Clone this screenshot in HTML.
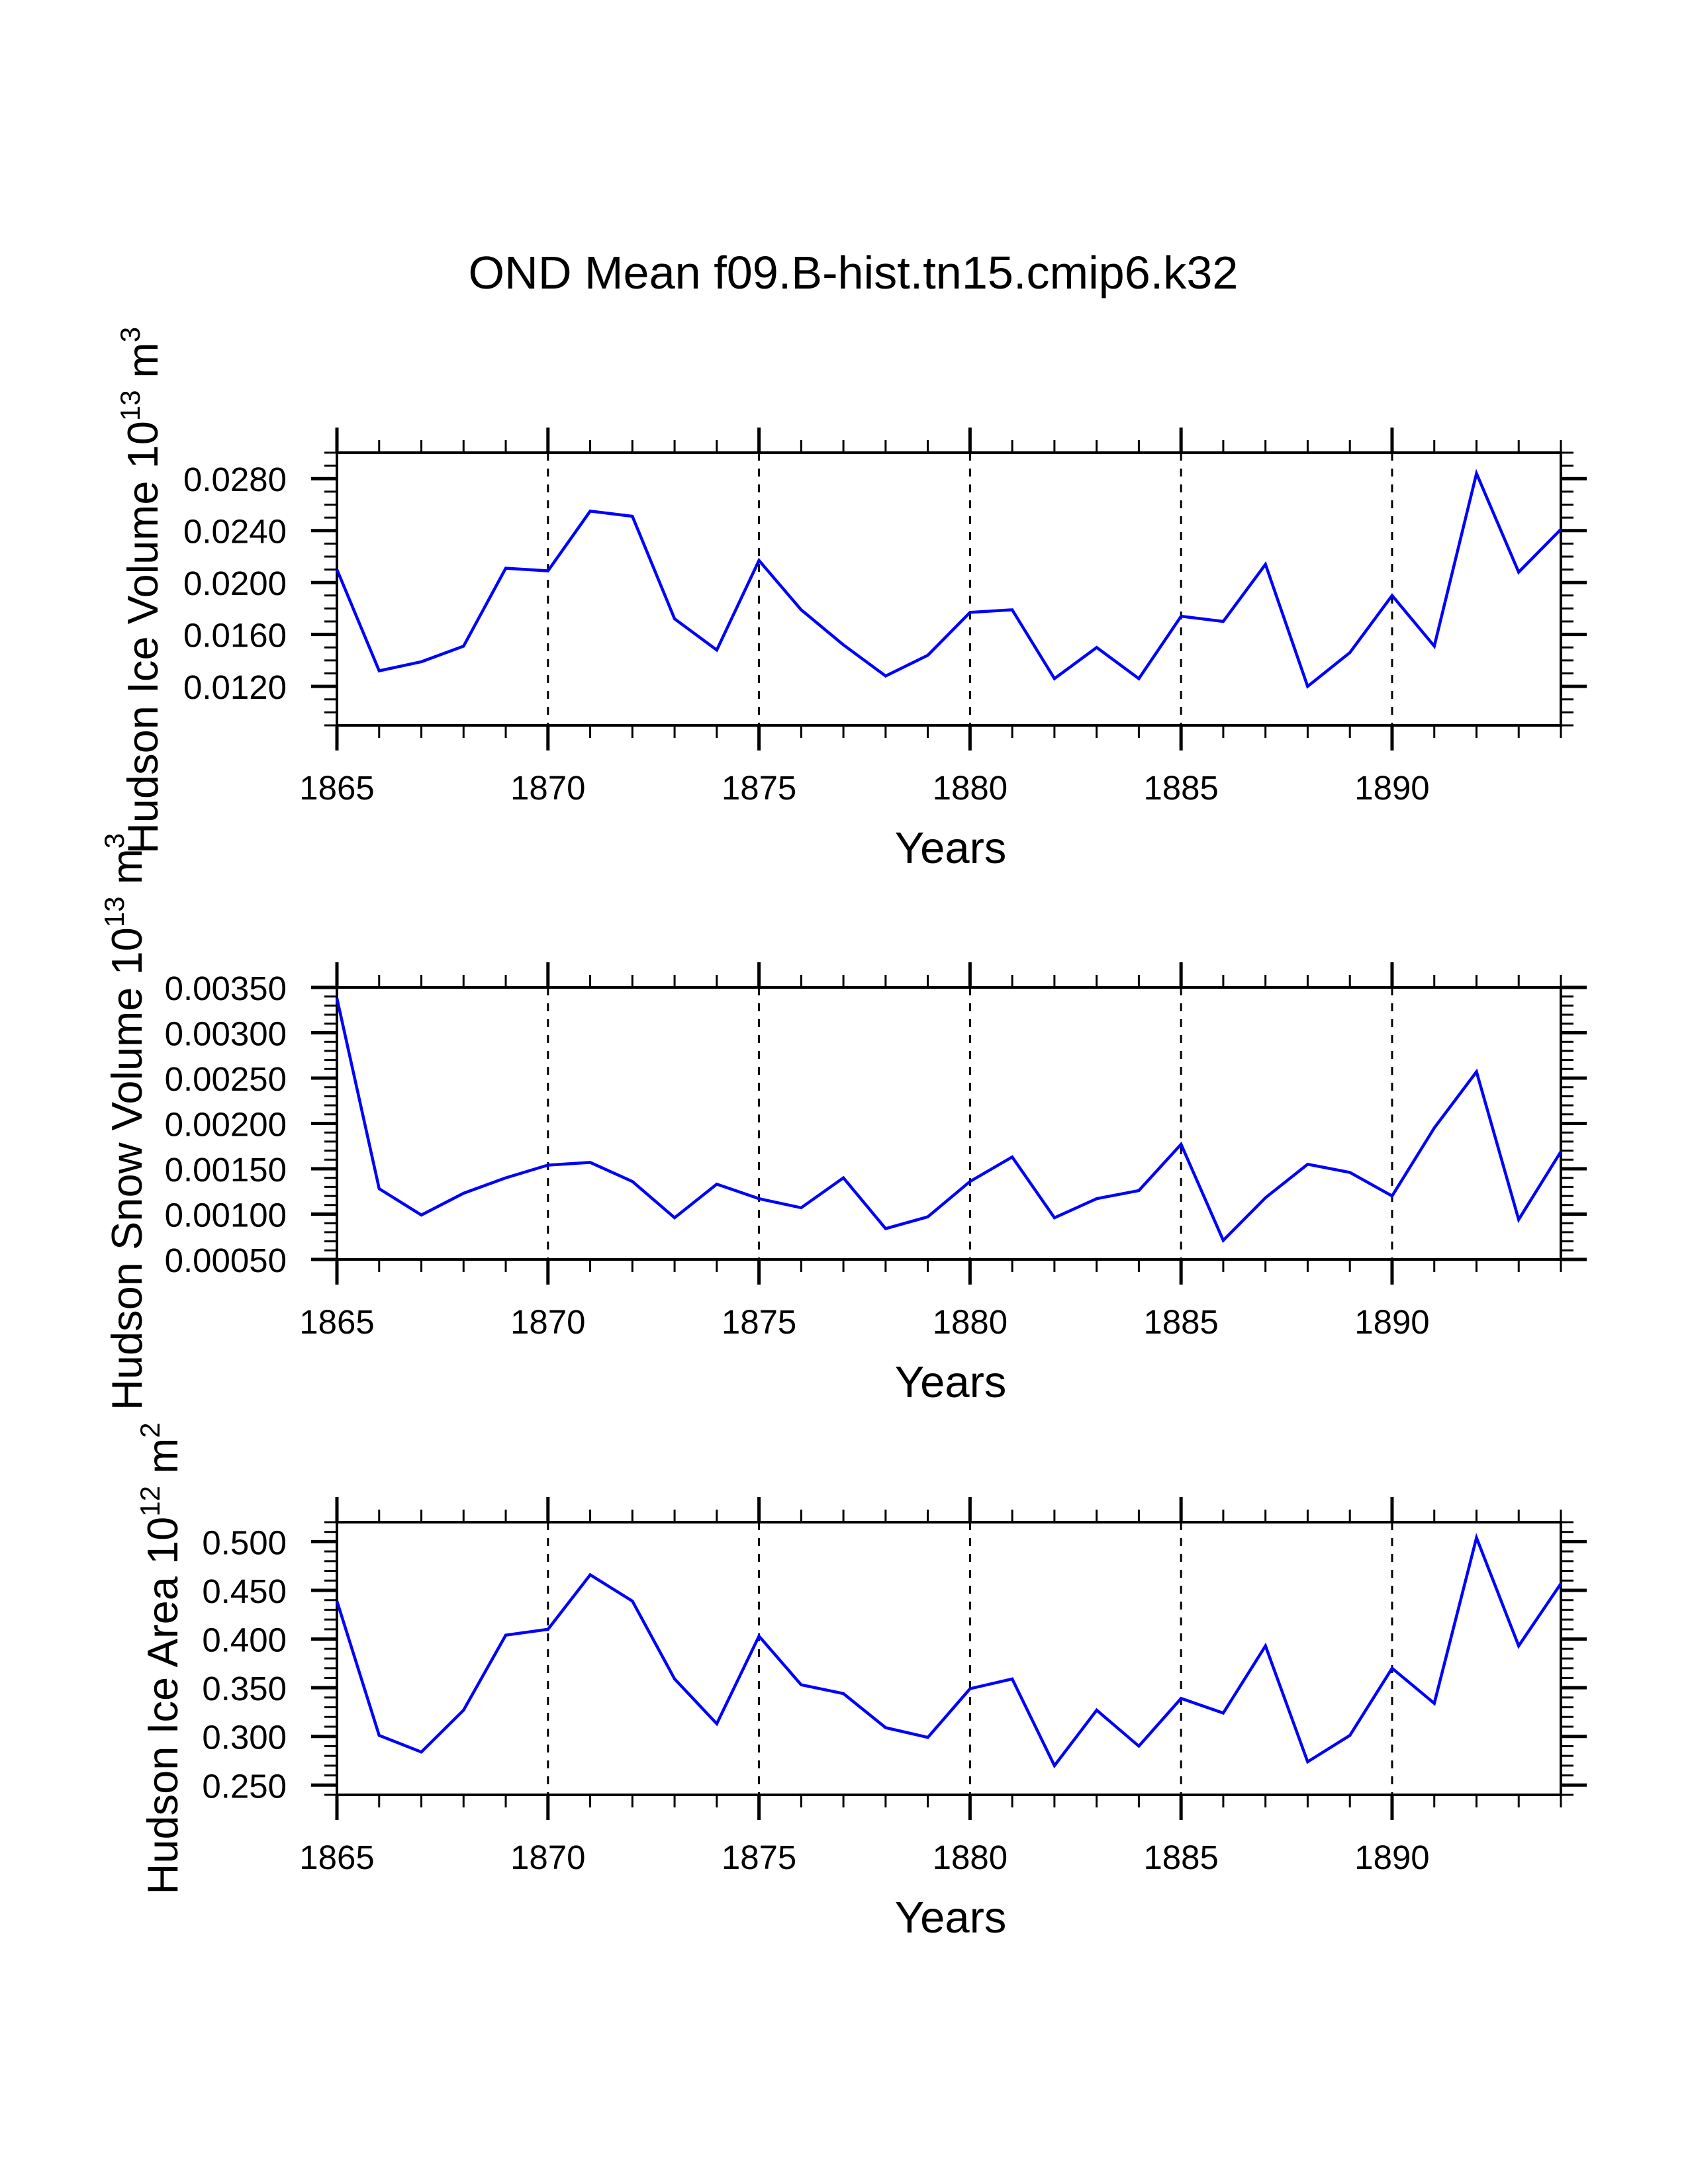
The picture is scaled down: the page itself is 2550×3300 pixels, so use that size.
<!DOCTYPE html>
<html>
<head>
<meta charset="utf-8">
<style>
html,body{margin:0;padding:0;background:#fff;}
svg{display:block;}
text{font-family:"Liberation Sans",Arial,sans-serif;fill:#000;}
</style>
</head>
<body>
<svg id="chart" xmlns="http://www.w3.org/2000/svg" width="2550" height="3300" viewBox="0 0 2550 3300">
<rect x="0" y="0" width="2550" height="3300" fill="#fff"/>
<text x="1289" y="436" font-size="70" text-anchor="middle" textLength="1163" lengthAdjust="spacingAndGlyphs">OND Mean f09.B-hist.tn15.cmip6.k32</text>
<g id="plots"></g>
</svg>
<script>
// ---- data ----
const years = [1865,1866,1867,1868,1869,1870,1871,1872,1873,1874,1875,1876,1877,1878,1879,1880,1881,1882,1883,1884,1885,1886,1887,1888,1889,1890,1891,1892,1893,1894];
const iceVolume = [0.0210,0.0132,0.0139,0.0151,0.0211,0.0209,0.0255,0.0251,0.0172,0.0148,0.0217,0.0179,0.0152,0.0128,0.0144,0.0177,0.0179,0.0126,0.0150,0.0126,0.0174,0.0170,0.0214,0.0120,0.0146,0.0190,0.0151,0.0284,0.0208,0.0241];
const snowVolume = [0.00338,0.00128,0.00099,0.00123,0.00140,0.00154,0.00157,0.00136,0.00096,0.00133,0.00117,0.00107,0.00140,0.00084,0.00097,0.00136,0.00163,0.00096,0.00117,0.00126,0.00177,0.00071,0.00118,0.00155,0.00146,0.00120,0.00195,0.00257,0.00094,0.00169];
const iceArea = [0.439,0.301,0.284,0.327,0.404,0.410,0.466,0.439,0.359,0.313,0.403,0.353,0.344,0.309,0.299,0.349,0.359,0.270,0.327,0.290,0.339,0.324,0.393,0.274,0.301,0.370,0.334,0.504,0.393,0.457];
const xTickLabels = ["1865","1870","1875","1880","1885","1890"];
const iceVolumeTicks = ["0.0120","0.0160","0.0200","0.0240","0.0280"];
const snowVolumeTicks = ["0.00050","0.00100","0.00150","0.00200","0.00250","0.00300","0.00350"];
const iceAreaTicks = ["0.250","0.300","0.350","0.400","0.450","0.500"];

const NS = "http://www.w3.org/2000/svg";
const root = document.getElementById("plots");
const X0 = 509, X1 = 2358, XMIN = 1865, XMAX = 1894;
function xScale(v){ return X0 + (v - XMIN) / (XMAX - XMIN) * (X1 - X0); }

function mk(tag, attrs, parent){
  const e = document.createElementNS(NS, tag);
  for (const k in attrs) e.setAttribute(k, attrs[k]);
  parent.appendChild(e);
  return e;
}

const panels = [
  {name:"ice-volume", top:684, bottom:1096, ymin:0.009, ymax:0.030, minor:0.001, ticks:iceVolumeTicks, data:iceVolume,
   title:["Hudson Ice Volume 10","13"," m","3"], tx:238, tcy:892},
  {name:"snow-volume", top:1492, bottom:1903, ymin:0.0005, ymax:0.0035, minor:0.0001, ticks:snowVolumeTicks, data:snowVolume,
   title:["Hudson Snow Volume 10","13"," m","3"], tx:214, tcy:1695},
  {name:"ice-area", top:2300, bottom:2712, ymin:0.24, ymax:0.52, minor:0.01, ticks:iceAreaTicks, data:iceArea,
   title:["Hudson Ice Area 10","12"," m","2"], tx:268, tcy:2506}
];

panels.forEach(p => {
  const g = mk("g", {}, root);
  
  
  const ys = v => p.bottom - (v - p.ymin) / (p.ymax - p.ymin) * (p.bottom - p.top);

  for (let yr = 1870; yr <= 1890; yr += 5) {
    const l = mk("line", {x1:xScale(yr), x2:xScale(yr), y1:p.top, y2:p.bottom, stroke:"#000", "stroke-width":3, "stroke-dasharray":"12,12"}, g);
    
    
  }

  const fr = mk("rect", {x:X0, y:p.top, width:X1-X0, height:p.bottom-p.top, fill:"none", stroke:"#000", "stroke-width":4}, g);
  
  

  for (let yr = XMIN; yr <= XMAX; yr++) {
    const major = (yr % 5 === 0);
    const len = major ? 38 : 19;
    const w = major ? 5 : 3;
    const x = xScale(yr);
    mk("line", {x1:x, x2:x, y1:p.bottom, y2:p.bottom+len, stroke:"#000", "stroke-width":w}, g);
    mk("line", {x1:x, x2:x, y1:p.top, y2:p.top-len, stroke:"#000", "stroke-width":w}, g);
  }
  xTickLabels.forEach(lbl => {
    const t = mk("text", {x:xScale(+lbl), y:p.bottom+112, "font-size":51, "text-anchor":"middle"}, g);
    t.textContent = lbl;
    
    
  });
  const xt = mk("text", {x:1436, y:p.bottom+208, "font-size":67, "text-anchor":"middle"}, g);
  xt.textContent = "Years";
  
  

  const nMinor = Math.round((p.ymax - p.ymin) / p.minor);
  for (let i = 0; i <= nMinor; i++) {
    const y = ys(p.ymin + i * p.minor);
    mk("line", {x1:X0, x2:X0-19, y1:y, y2:y, stroke:"#000", "stroke-width":3}, g);
    mk("line", {x1:X1, x2:X1+19, y1:y, y2:y, stroke:"#000", "stroke-width":3}, g);
  }
  p.ticks.forEach(lbl => {
    const y = ys(parseFloat(lbl));
    mk("line", {x1:X0, x2:X0-39, y1:y, y2:y, stroke:"#000", "stroke-width":5}, g);
    mk("line", {x1:X1, x2:X1+39, y1:y, y2:y, stroke:"#000", "stroke-width":5}, g);
    const t = mk("text", {x:433, y:y+19, "font-size":51, "text-anchor":"end"}, g);
    t.textContent = lbl;
    
    
  });

  const yt = mk("text", {x:0, y:0, "font-size":65, "text-anchor":"middle", transform:"translate(" + p.tx + "," + p.tcy + ") rotate(-90)"}, g);
  
  
  const s1 = mk("tspan", {}, yt); s1.textContent = p.title[0];
  const s2 = mk("tspan", {dy:-27, "font-size":42}, yt); s2.textContent = p.title[1];
  const s3 = mk("tspan", {dy:27}, yt); s3.textContent = p.title[2];
  const s4 = mk("tspan", {dy:-27, "font-size":42}, yt); s4.textContent = p.title[3];

  const pts = years.map((yr, i) => xScale(yr).toFixed(1) + "," + ys(p.data[i]).toFixed(1)).join(" ");
  const pl = mk("polyline", {points:pts, fill:"none", stroke:"#0000ff", "stroke-width":4.5, "stroke-linejoin":"miter"}, g);
  
  
});
</script>
</body>
</html>
